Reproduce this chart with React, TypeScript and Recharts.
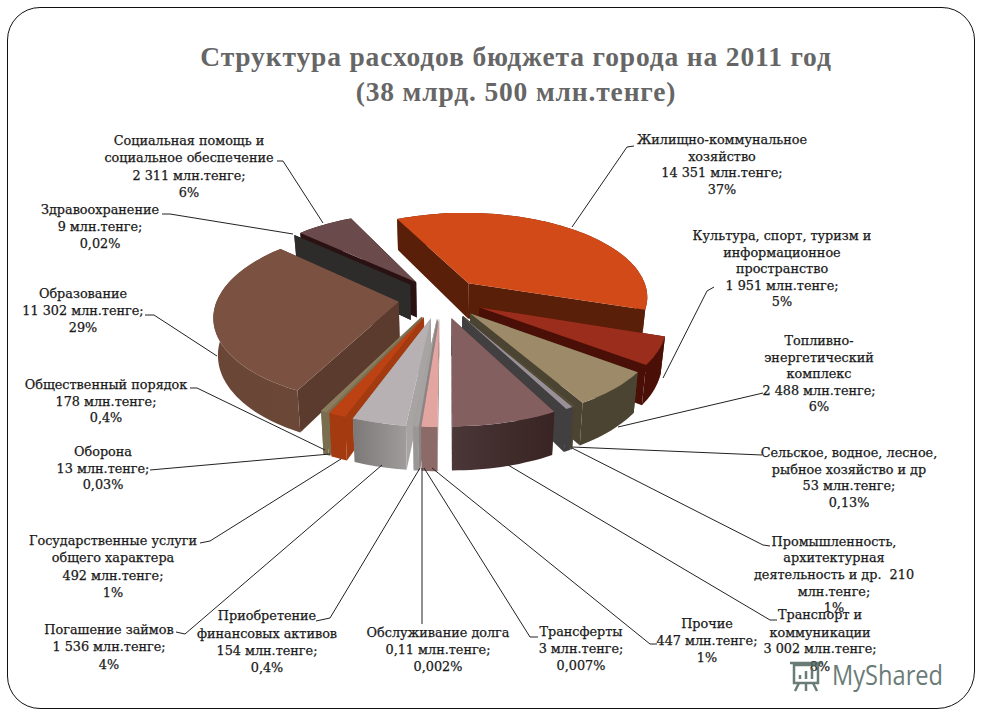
import * as React from 'react'
import { Pie, PieChart } from 'recharts'

const names = [
  'Жилищно-коммунальное хозяйство',
  'Культура, спорт, туризм',
  'Топливно-энергетический комплекс',
  'Сельское, водное, лесное хозяйство',
  'Промышленность',
  'Транспорт и коммуникации',
  'Прочие',
  'Трансферты',
  'Обслуживание долга',
  'Приобретение финансовых активов',
  'Погашение займов',
  'Государственные услуги',
  'Оборона',
  'Общественный порядок',
  'Образование',
  'Здравоохранение',
  'Социальная помощь',
]
const values = [14351, 1951, 2488, 53, 210, 3002, 447, 3, 0.11, 154, 1536, 492, 13, 178, 11302, 9, 2311]

const topColors = ['#d14a18', '#9a2d1b', '#9c8a68', '#5c5238', '#9a9098', '#83605f', '#e2a5a0', '#b0a8a8', '#a8a0a0', '#a6a2a2', '#b8b1b3', '#bd4213', '#8a7c5c', '#8a7c5c', '#7b5142', '#2e2b2b', '#6b4a4b']
const sideColors = ['#5a1f08', '#4a0f06', '#4c4432', '#4a4230', '#423f40', '#3f2a2b', '#8c6a68', '#8a8484', '#908a8a', '#9a9696', '#a8a4a4', '#a33a10', '#7a6e50', '#7a6e50', '#5c3b2f', '#2e2b2b', '#2a1212']
const rimColorsLeft = ['#5a1f08', '#4a0f06', '#4c4432', '#4a4230', '#423f40', '#4b3638', '#8c6a68', '#8a8484', '#908a8a', '#9a9696', '#7c7877', '#a33a10', '#7a6e50', '#7a6e50', '#6a4636', '#2e2b2b', '#2a1212']
const rimColorsRight = ['#5a1f08', '#4a0f06', '#4c4432', '#4a4230', '#423f40', '#392423', '#8c6a68', '#8a8484', '#908a8a', '#9a9696', '#a09c9c', '#a33a10', '#7a6e50', '#7a6e50', '#6b4738', '#2e2b2b', '#2a1212']

// painter's order, back slices first
const drawOrder = [0, 1, 2, 3, 4, 5, 16, 15, 14, 13, 12, 11, 10, 9, 8, 7, 6]

const table = names.map((name, i) => ({ name, value: values[i], index: i }))

const labelCenters = [722, 782, 819, 849, 834, 820, 707, 581, 438, 267, 109, 113, 103, 106, 83, 100, 189]
const labelLines = [
  ['Жилищно-коммунальное', 'хозяйство', '14 351 млн.тенге;', '37%'],
  ['Культура, спорт, туризм и', 'информационное', 'пространство', '1 951 млн.тенге;', '5%'],
  ['Топливно-', 'энергетический', 'комплекс', '2 488 млн.тенге;', '6%'],
  ['Сельское, водное, лесное,', 'рыбное хозяйство и др', '53 млн.тенге;', '0,13%'],
  ['Промышленность,', 'архитектурная', 'деятельность и др.  210', 'млн.тенге;', '1%'],
  ['Транспорт и', 'коммуникации', '3 002 млн.тенге;', '8%'],
  ['Прочие', '447 млн.тенге;', '1%'],
  ['Трансферты', '3 млн.тенге;', '0,007%'],
  ['Обслуживание долга', '0,11 млн.тенге;', '0,002%'],
  ['Приобретение', 'финансовых активов', '154 млн.тенге;', '0,4%'],
  ['Погашение займов', '1 536 млн.тенге;', '4%'],
  ['Государственные услуги', 'общего характера', '492 млн.тенге;', '1%'],
  ['Оборона', '13 млн.тенге;', '0,03%'],
  ['Общественный порядок', '178 млн.тенге;', '0,4%'],
  ['Образование', '11 302 млн.тенге;', '29%'],
  ['Здравоохранение', '9 млн.тенге;', '0,02%'],
  ['Социальная помощь и', 'социальное обеспечение', '2 311 млн.тенге;', '6%'],
]
const labelBaselines = [
  [144, 161, 177, 194],
  [240, 257, 273, 290, 306],
  [345, 362, 378, 395, 411],
  [457, 474, 490, 507],
  [546, 562, 579, 596, 612],
  [619, 637, 653, 671],
  [628, 645, 662],
  [636, 653, 670],
  [637, 654, 671],
  [620, 638, 655, 672],
  [634, 651, 669],
  [545, 562, 580, 597],
  [456, 473, 489],
  [389, 406, 422],
  [298, 315, 332],
  [214, 231, 248],
  [145, 162, 180, 197],
]
const leaders = [
  '634,146 627,147 572,227',
  '714,287 707,291 663,378',
  '763,393 618,427',
  '762,455 572,447',
  '770,546 763,545 572,448',
  '777,620 770,620 508,465',
  '657,644 650,644 432,468',
  '538,637 530,637 424,468',
  '422,624 422,468',
  '316,621 330,618 420,468',
  '176,632 185,634 382,465',
  '200,543 210,541 341,459',
  '150,470 330,454',
  '190,388 197,388 325,450',
  '145,315 154,315 217,356',
  '162,214 170,214 293,234',
  '277,161 283,161 323,223',
]

const SCREEN_W = 982
const SCREEN_H = 720
const CX = 441
const CY = 298
const RADIUS = 181
const SQUASH = 0.47 // ellipse ratio of the tilted plane
const PERSPECTIVE = 0.15
const EXPLODE = 0.236
const DEPTH = 36

// slice plane -> screen
function project(a: number, b: number, cx: number, cy: number, R: number) {
  const w = 1 / (1 - PERSPECTIVE * b)
  return { x: cx + R * a * w, y: cy + R * SQUASH * b * w, w }
}

function dropped(p: { x: number; y: number; w: number }, cx: number) {
  return { x: cx + (p.x - cx) * 0.98, y: p.y + DEPTH * p.w }
}

const toPath = (pts: { x: number; y: number }[]) =>
  'M' + pts.map((p) => `${p.x.toFixed(1)},${p.y.toFixed(1)}`).join('L') + 'Z'

function Slice3D(props: any) {
  const { cx, cy, outerRadius, startAngle, endAngle, payload } = props
  const i = payload?.index ?? props.index
  // recharts angles run counter-clockwise from 3 o'clock
  const t0 = ((90 - startAngle) * Math.PI) / 180
  const t1 = ((90 - endAngle) * Math.PI) / 180
  const mid = (t0 + t1) / 2
  const ox = EXPLODE * Math.sin(mid)
  const oy = -EXPLODE * Math.cos(mid)
  const apex = project(ox, oy, cx, cy, outerRadius)
  const steps = Math.max(2, Math.ceil(Math.abs(t1 - t0) / 0.03))
  const rim = []
  for (let s = 0; s <= steps; s++) {
    const t = t0 + ((t1 - t0) * s) / steps
    rim.push(project(ox + Math.sin(t), oy - Math.cos(t), cx, cy, outerRadius))
  }
  const rimLow = rim.map((p) => dropped(p, cx))
  const apexLow = dropped(apex, cx)
  const first = rim[0]
  const last = rim[rim.length - 1]
  const walls = [
    { d: toPath([apex, first, rimLow[0], apexLow]), y: (apex.y + first.y) / 2 },
    { d: toPath([apex, last, rimLow[rimLow.length - 1], apexLow]), y: (apex.y + last.y) / 2 },
  ].sort((p, q) => p.y - q.y)
  return (
    <g>
      <defs>
        <linearGradient id={`wall-${i}`} x1="0" y1="0" x2="1" y2="0">
          <stop offset="0%" stopColor={rimColorsLeft[i]} />
          <stop offset="100%" stopColor={rimColorsRight[i]} />
        </linearGradient>
      </defs>
      {walls.map((wall, n) => (
        <path key={n} d={wall.d} fill={sideColors[i]} />
      ))}
      <path d={toPath([...rim, ...[...rimLow].reverse()])} fill={`url(#wall-${i})`} />
      <path d={toPath([apex, ...rim])} fill={topColors[i]} />
    </g>
  )
}

export default function App() {
  return (
    <div style={{ position: 'absolute', left: 0, top: 0, width: SCREEN_W, height: SCREEN_H, background: '#fff' }}>
      <div
        style={{
          position: 'absolute',
          left: 7,
          top: 7,
          width: 966,
          height: 700,
          border: '1.5px solid #111',
          borderRadius: '33px 33px 38px 33px',
        }}
      />
      <div style={{ position: 'absolute', left: 0, top: 0 }}>
        <PieChart width={SCREEN_W} height={SCREEN_H} margin={{ top: 0, right: 0, bottom: 0, left: 0 }}>
          {drawOrder.map((n) => (
            <Pie
              key={n}
              data={table}
              dataKey="value"
              nameKey="name"
              cx={CX}
              cy={CY}
              innerRadius={0}
              outerRadius={RADIUS}
              startAngle={115.9}
              endAngle={-244.1}
              paddingAngle={0}
              stroke="none"
              isAnimationActive={false}
              shape={(p: any) => ((p.payload?.index ?? p.index) === n ? <Slice3D {...p} /> : <g />)}
            />
          ))}
        </PieChart>
      </div>
      <svg width={SCREEN_W} height={SCREEN_H} style={{ position: 'absolute', left: 0, top: 0, pointerEvents: 'none' }}>
        <g fontFamily="'Liberation Serif', serif" fontWeight="bold" fill="#666" textAnchor="middle" fontSize={27.5}>
          <text x={516} y={66} letterSpacing={0.85}>Структура расходов бюджета города на 2011 год</text>
          <text x={516} y={101} letterSpacing={0.85}>(38 млрд. 500 млн.тенге)</text>
        </g>
        {leaders.map((pts, i) => (
          <polyline key={i} points={pts} fill="none" stroke="#222" strokeWidth={1} />
        ))}
        <g fontFamily="'DejaVu Serif', serif" fontSize={12.8} fill="#1a1a1a" stroke="#1a1a1a" strokeWidth={0.25} textAnchor="middle">
          {labelLines.map((lines, i) =>
            lines.map((line, j) => (
              <text key={`${i}-${j}`} x={labelCenters[i]} y={labelBaselines[i][j]} xmlSpace="preserve">
                {line}
              </text>
            )),
          )}
        </g>
        <text x={832} y={685} fontFamily="'Open Sans', sans-serif" fontSize={27} fill="#4f6660" opacity={0.85} textLength={111} lengthAdjust="spacingAndGlyphs">
          MyShared
        </text>
        <g fill="none" stroke="#4f6660" strokeWidth={2.5} opacity={0.85}>
          <rect x={794} y={665} width={24} height={18} />
          <path d="M790,663 H822 M799,683 L795,691 M813,683 L817,691 M806,683 V691 M800,679 V675 M806,679 V671 M812,679 V668" />
        </g>
      </svg>
    </div>
  )
}
